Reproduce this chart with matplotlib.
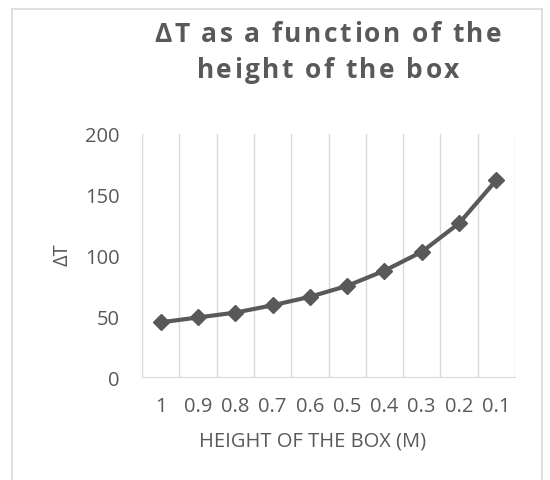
import matplotlib.pyplot as plt
from matplotlib.patches import Rectangle
from matplotlib.font_manager import FontProperties, findfont
from matplotlib.ft2font import FT2Font
import numpy as np

plt.rcParams['font.family'] = ['Open Sans', 'DejaVu Sans']

heights = ["1", "0.9", "0.8", "0.7", "0.6", "0.5", "0.4", "0.3", "0.2", "0.1"]
delta_t = [45, 49, 53, 59, 66, 75, 87.5, 103, 126.5, 162]
title_lines = ["ΔT as a function of the", "height of the box"]

W, H = 550, 481
GREY = "#595959"


def spaced_text(fig, x_px, y_px, s, size, spacing, **kw):
    # draw s centred at x_px with extra letter spacing (pixels)
    fp = FontProperties(family="Open Sans", weight=kw.get("fontweight", "normal"))
    font = FT2Font(findfont(fp))
    font.set_size(size, 100)
    adv = [font.load_char(ord(c)).linearHoriAdvance / 65536 for c in s]
    total = sum(adv) + spacing * (len(s) - 1)
    x = x_px - total / 2
    for c, a in zip(s, adv):
        fig.text(x / W, 1 - y_px / H, c, fontsize=size, color=GREY,
                 ha="left", va="baseline", **kw)
        x += a + spacing


fig = plt.figure(figsize=(W / 100, H / 100), dpi=100)

# outer chart frame
fig.patches.append(Rectangle((12 / W, -0.01), 530 / W, 1 - 10 / H + 0.01,
                             transform=fig.transFigure, fill=False,
                             edgecolor="#d9d9d9", linewidth=1.2))

ax = fig.add_axes([142 / W, 1 - 378 / H, 373 / W, 243 / H])
x = np.arange(len(heights))
ax.plot(x, delta_t, color=GREY, linewidth=3, marker="D",
        markersize=8.5, zorder=3)

ax.set_xlim(-0.5, len(heights) - 0.5)
ax.set_ylim(0, 200)
ax.set_yticks([0, 50, 100, 150, 200])
ax.set_xticks(x)
ax.set_xticklabels(heights)
ax.set_xticks(np.arange(-0.5, len(heights), 1), minor=True)
ax.grid(which="minor", axis="x", color="#d9d9d9", linewidth=1)
ax.tick_params(which="both", length=0)
ax.tick_params(axis="y", labelsize=14.5, colors=GREY, pad=16)
ax.tick_params(axis="x", labelsize=14.5, colors=GREY, pad=14)

for s in ["top", "left", "right"]:
    ax.spines[s].set_visible(False)
ax.spines["bottom"].set_color("#d9d9d9")

fig.text(63 / W, 1 - 255 / H, "ΔT", rotation=90, fontsize=14.5,
         color=GREY, ha="center", va="center")
fig.text(313 / W, 1 - 442 / H, "HEIGHT OF THE BOX (M)", fontsize=14.5,
         color=GREY, ha="center", va="center")

spaced_text(fig, 328, 42, title_lines[0], 19, 2.4, fontweight="bold")
spaced_text(fig, 328, 78, title_lines[1], 19, 2.4, fontweight="bold")

fig.savefig("out.png", dpi=100)
